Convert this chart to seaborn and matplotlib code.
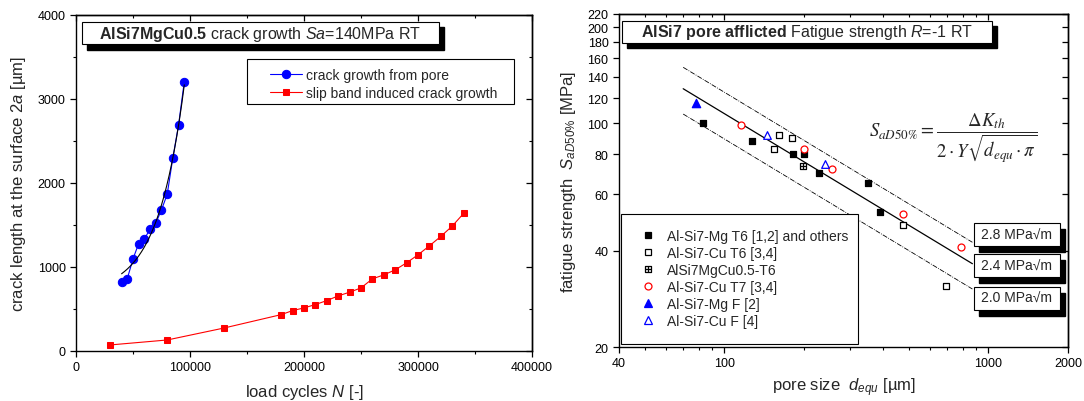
import numpy as np
import matplotlib
matplotlib.use('Agg')
import matplotlib.pyplot as plt
from matplotlib.patches import Rectangle
from matplotlib.path import Path
from matplotlib.lines import Line2D
from matplotlib.ticker import FixedLocator, NullLocator, LogLocator, NullFormatter
import seaborn as sns

# ---- left panel: crack growth
pore_cycles = [40000, 45000, 50000, 55000, 60000, 65000, 70000, 75000, 80000, 85000, 90000, 95000]
pore_crack = [817, 861, 1096, 1279, 1335, 1450, 1522, 1681, 1865, 2303, 2693, 3207]
slip_cycles = [30000, 80000, 130000, 180000, 190000, 200000, 210000, 220000, 230000, 240000,
               250000, 260000, 270000, 280000, 290000, 300000, 310000, 320000, 330000, 340000]
slip_crack = [72, 131, 274, 433, 481, 513, 553, 600, 656, 700,
              751, 859, 906, 966, 1050, 1145, 1252, 1364, 1487, 1638]
left_xticks = [0, 100000, 200000, 300000, 400000]
left_xlabels = ['0', '100000', '200000', '300000', '400000']
left_yticks = [0, 1000, 2000, 3000, 4000]

# ---- right panel: fatigue strength vs pore size
mg_t6_d = [83, 128, 182, 200, 229, 349, 388]
mg_t6_s = [100, 88, 80, 80, 70, 65, 53]
cu_t6_d = [154, 161, 180, 476, 693]
cu_t6_s = [83, 92, 90, 48, 31]
mgcu_d = [199]
mgcu_s = [73.5]
cu_t7_d = [116, 200, 257, 476, 791]
cu_t7_s = [99, 83, 72, 52, 41]
mg_f_d = [78]
mg_f_s = [116]
cu_f_d = [145, 240]
cu_f_s = [92, 74.5]
dk_values = [2.8, 2.4, 2.0]          # MPa*sqrt(m)
geom_y = 0.63
line_d = [70, 870]                    # um, extent of threshold lines
right_yticks = [20, 40, 60, 80, 100, 120, 140, 160, 180, 200, 220]
right_xticks = [40, 100, 1000, 2000]

sns.set_style('ticks')
plt.rcParams['font.family'] = ['Liberation Sans', 'DejaVu Sans']
plt.rcParams['mathtext.fontset'] = 'custom'
plt.rcParams['mathtext.rm'] = 'Liberation Sans'
plt.rcParams['mathtext.it'] = 'Liberation Sans:italic'
plt.rcParams['mathtext.bf'] = 'Liberation Sans:bold'
plt.rcParams['axes.edgecolor'] = 'black'
plt.rcParams['xtick.color'] = 'black'
plt.rcParams['ytick.color'] = 'black'
plt.rcParams['axes.linewidth'] = 1.0

fig = plt.figure(figsize=(10.84, 4.02), dpi=100)
ax1 = fig.add_axes([0.0701, 0.1244, 0.4207, 0.8358])
ax2 = fig.add_axes([0.571, 0.1343, 0.4142, 0.8284])


def shadow_box(ax, x0, y0, w, h, dx, dy, z=6):
    ax.add_patch(Rectangle((x0 + dx, y0 - dy), w, h, transform=ax.transAxes,
                           facecolor='black', edgecolor='black', zorder=z))
    ax.add_patch(Rectangle((x0, y0), w, h, transform=ax.transAxes,
                           facecolor='white', edgecolor='black', lw=0.8, zorder=z + 0.1))


# ---------------- left
sns.lineplot(x=pore_cycles, y=pore_crack, ax=ax1, color='blue', marker='o', markersize=6,
             markeredgecolor='blue', lw=0.8, label='crack growth from pore', zorder=3)
sns.lineplot(x=slip_cycles, y=slip_crack, ax=ax1, color='red', marker='s', markersize=5,
             markeredgecolor='red', lw=0.8, label='slip band induced crack growth', zorder=3)

# exponential growth fit a = y0 + A*exp(b*N)
N = np.array(pore_cycles, float)
A_ = np.array(pore_crack, float)
best = None
for b in np.linspace(5e-6, 1.5e-4, 1451):
    X = np.column_stack([np.ones_like(N), np.exp(b * (N - N.min()))])
    coef = np.linalg.lstsq(X, A_, rcond=None)[0]
    sse = ((X @ coef - A_) ** 2).sum()
    if best is None or sse < best[0]:
        best = (sse, b, coef)
_, b_fit, c_fit = best
n_fit = np.linspace(N.min(), N.max(), 200)
a_fit = c_fit[0] + c_fit[1] * np.exp(b_fit * (n_fit - N.min()))
sns.lineplot(x=n_fit, y=a_fit, ax=ax1, color='black', lw=0.8, zorder=4)

ax1.set_xlim(0, 400000)
ax1.set_ylim(0, 4000)
ax1.set_xticks(left_xticks)
ax1.set_xticklabels(left_xlabels)
ax1.set_yticks(left_yticks)
ax1.xaxis.set_minor_locator(FixedLocator([50000, 150000, 250000, 350000]))
ax1.yaxis.set_minor_locator(FixedLocator([500, 1500, 2500, 3500]))
ax1.set_xlabel(r'load cycles $N$ [-]', fontsize=12, labelpad=6)
ax1.set_ylabel(r'crack length at the surface 2$a$ [µm]', fontsize=12, labelpad=7)

h, l = ax1.get_legend_handles_labels()
ax1.add_patch(Rectangle((0.376, 0.734), 0.584, 0.134, transform=ax1.transAxes,
                        facecolor='white', edgecolor='black', lw=0.8, zorder=4.5))
ax1.legend(h[:2], l[:2], loc='upper left', bbox_to_anchor=(0.426, 0.842), frameon=False,
           fontsize=10, handlelength=2.3, handletextpad=0.3, labelspacing=0.25,
           borderpad=0, borderaxespad=0).set_zorder(5)

shadow_box(ax1, 0.0127, 0.9125, 0.783, 0.0675, 0.011, 0.016)
ax1.text(0.404, 0.946, r'$\mathbf{AlSi7MgCu0.5}$ crack growth $Sa$=140MPa RT',
         transform=ax1.transAxes, ha='center', va='center', fontsize=11.5, zorder=7)

# ---------------- right
d_arr = np.array(line_d, float)
for dk, ls, lw in zip(dk_values, [(0, (6, 1.5, 1, 1.5)), '-', (0, (6, 1.5, 1, 1.5))], [0.6, 0.9, 0.6]):
    s_line = dk / (2 * geom_y * np.sqrt(d_arr * 1e-6 * np.pi))
    sns.lineplot(x=d_arr, y=s_line, ax=ax2, color='black', lw=lw, linestyle=ls, zorder=2)

hatch_sq = Path([(-1, -1), (1, -1), (1, 1), (-1, 1), (-1, -1), (-1, 0), (1, 0), (0, -1), (0, 1)],
                [Path.MOVETO, Path.LINETO, Path.LINETO, Path.LINETO, Path.CLOSEPOLY,
                 Path.MOVETO, Path.LINETO, Path.MOVETO, Path.LINETO])

series = [
    (mg_t6_d, mg_t6_s, 'Al-Si7-Mg T6 [1,2] and others', dict(marker='s', fc='black', ec='black', ms=5)),
    (cu_t6_d, cu_t6_s, 'Al-Si7-Cu T6 [3,4]', dict(marker='s', fc='white', ec='black', ms=4.3)),
    (mgcu_d, mgcu_s, 'AlSi7MgCu0.5-T6', dict(marker=hatch_sq, fc='none', ec='black', ms=4.3)),
    (cu_t7_d, cu_t7_s, 'Al-Si7-Cu T7 [3,4]', dict(marker='o', fc='white', ec='red', ms=5)),
    (mg_f_d, mg_f_s, 'Al-Si7-Mg F [2]', dict(marker='^', fc='blue', ec='blue', ms=6)),
    (cu_f_d, cu_f_s, 'Al-Si7-Cu F [4]', dict(marker='^', fc='white', ec='blue', ms=5.5)),
]
handles = []
for xs, ys, lab, st in series:
    sns.scatterplot(x=xs, y=ys, ax=ax2, marker=st['marker'], s=st['ms'] ** 2,
                    facecolor=st['fc'], edgecolor=st['ec'], linewidth=0.9, zorder=3)
    handles.append(Line2D([], [], linestyle='none', marker=st['marker'], markersize=st['ms'],
                          markerfacecolor=st['fc'], markeredgecolor=st['ec'],
                          markeredgewidth=0.9, label=lab))

ax2.set_xscale('log')
ax2.set_yscale('log')
ax2.set_xlim(40, 2000)
ax2.set_ylim(20, 220)
ax2.set_xticks(right_xticks)
ax2.set_xticklabels([str(v) for v in right_xticks])
ax2.xaxis.set_minor_locator(LogLocator(base=10, subs=np.arange(2, 10)))
ax2.xaxis.set_minor_formatter(NullFormatter())
ax2.set_yticks(right_yticks)
ax2.set_yticklabels([str(v) for v in right_yticks])
ax2.yaxis.set_minor_locator(NullLocator())
ax2.set_xlabel(r'pore size  $d_{equ}$ [µm]', fontsize=12, labelpad=4)
ax2.set_ylabel(r'fatigue strength  $S_{aD50\%}$ [MPa]', fontsize=12, labelpad=7)

ax2.add_patch(Rectangle((0.0045, 0.010), 0.5285, 0.389, transform=ax2.transAxes,
                        facecolor='white', edgecolor='black', lw=0.8, zorder=4.5))
ax2.legend(handles=handles, loc='upper left', bbox_to_anchor=(0.049, 0.355), frameon=False,
           fontsize=10, handlelength=1.0, handletextpad=0.9, labelspacing=0.22,
           borderpad=0, borderaxespad=0).set_zorder(5)

shadow_box(ax2, 0.0078, 0.914, 0.823, 0.0655, 0.011, 0.016)
ax2.text(0.4187, 0.947, r'$\mathbf{AlSi7\ pore\ afflicted}$ Fatigue strength $R$=-1 RT',
         transform=ax2.transAxes, ha='center', va='center', fontsize=11.5, zorder=7)

ax2.text(0.744, 0.628, r'$S_{aD50\%} = \dfrac{\Delta K_{th}}{2\cdot Y\sqrt{d_{equ}\cdot\pi}}$',
         transform=ax2.transAxes, ha='center', va='center', fontsize=13.5, math_fontfamily='stix')

for dk, y0 in zip(dk_values, [0.304, 0.2093, 0.1126]):
    shadow_box(ax2, 0.790, y0, 0.193, 0.0685, 0.011, 0.018)
    ax2.text(0.790 + 0.193 / 2, y0 + 0.0685 / 2, f'{dk:.1f} MPa√m', transform=ax2.transAxes,
             ha='center', va='center', fontsize=10, zorder=7)

# tick styling: outward on left/bottom, inward mirrored on top/right
for ax in (ax1, ax2):
    ax.tick_params(which='major', direction='out', length=4.5, width=0.9, labelsize=9, pad=3)
    ax.tick_params(which='minor', direction='out', length=2.5, width=0.8)
    for sp in ax.spines.values():
        sp.set_color('black')
        sp.set_linewidth(1.0)

top1 = ax1.secondary_xaxis('top')
top1.set_xticks(left_xticks)
top1.xaxis.set_minor_locator(FixedLocator([50000, 150000, 250000, 350000]))
right1 = ax1.secondary_yaxis('right')
right1.set_yticks(left_yticks)
right1.yaxis.set_minor_locator(FixedLocator([500, 1500, 2500, 3500]))

top2 = ax2.secondary_xaxis('top')
top2.set_xticks(right_xticks)
top2.xaxis.set_minor_locator(LogLocator(base=10, subs=np.arange(2, 10)))
top2.xaxis.set_minor_formatter(NullFormatter())
right2 = ax2.secondary_yaxis('right')
right2.set_yticks(right_yticks)
right2.yaxis.set_minor_locator(NullLocator())

for sec in (top1, top2):
    sec.tick_params(axis='x', which='major', direction='in', length=4.5, width=0.9, labeltop=False)
    sec.tick_params(axis='x', which='minor', direction='in', length=2.5, width=0.8, labeltop=False)
for sec in (right1, right2):
    sec.tick_params(axis='y', which='major', direction='in', length=4.5, width=0.9, labelright=False)
    sec.tick_params(axis='y', which='minor', direction='in', length=2.5, width=0.8, labelright=False)

fig.savefig('out.png', dpi=100)
